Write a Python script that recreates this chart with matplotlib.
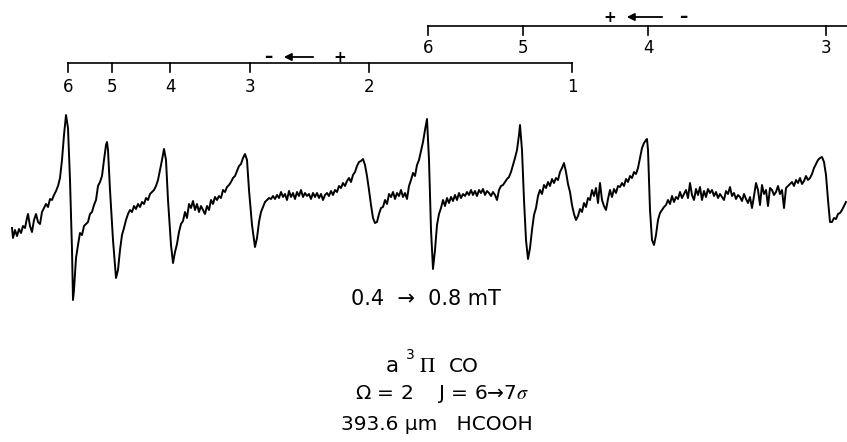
import matplotlib
matplotlib.use("Agg")
from matplotlib import pyplot as plt

# recorder trace (x = sweep position, y = pen height, 0 at top)
field = [12, 13, 15, 17, 19, 21, 23, 25, 27, 28, 30, 32, 34, 36, 38, 40, 42, 44, 46, 48,
         50, 52, 54, 56, 58, 60, 62, 64, 66,
         68, 70, 72, 73, 74, 76, 78, 80, 82, 84, 86, 88, 90, 92, 94, 96, 98, 100, 102, 104,
         106, 107, 108,
         110, 113, 116, 118, 120, 122, 124, 126, 128, 130, 132, 134, 136, 138, 140, 142, 144,
         146, 148, 150, 152, 154, 156, 158, 160, 162, 164, 166,
         168, 171, 173, 175, 177, 179, 181, 183, 185, 187, 189, 191, 193, 195, 197, 199, 201,
         203, 205, 207, 209, 211, 213, 215, 217, 219, 221, 223, 225, 227, 229, 231, 233, 235,
         237, 239, 241, 243, 245, 247,
         249, 252, 255, 257, 259, 261, 263, 265, 267, 269, 271, 273, 275, 277, 279, 281, 283,
         285, 287, 289, 291, 293, 295, 297, 299, 301, 303, 305, 307, 309, 311, 313, 315, 317,
         319, 321, 323, 325, 327, 329, 331, 333, 335, 337, 339, 341, 343, 345, 347, 349, 351,
         353, 355, 357, 359, 361, 363, 365, 367, 369, 371, 373, 375, 377, 379, 381, 383, 385,
         387, 389, 391, 393, 395, 397, 399, 401, 403, 405, 407, 409, 411, 413, 415, 417, 419,
         421, 423, 425, 427,
         429, 431, 433, 435, 437, 439, 441, 443, 445, 447, 449, 451, 453, 455, 457, 459, 461,
         463, 465, 467, 469, 471, 473, 475, 477, 479, 481, 483, 485, 487, 489, 491, 493, 495,
         497, 499, 501, 503, 505, 507, 509, 511, 513, 515, 517, 519, 520, 522,
         524, 526, 528, 530, 532, 534, 536, 538, 540, 542, 544, 546, 548, 550, 552, 554, 556,
         558, 560, 562, 564, 566, 568, 570, 572, 574, 576, 578, 580, 582, 584, 586, 588, 590,
         592, 594, 596, 598, 600, 602, 604, 606, 608, 610, 612, 614, 616, 618, 620, 622, 624,
         626, 628, 630, 632, 634, 636, 638, 640, 642, 644, 646, 647, 648,
         650, 652, 654, 656, 658, 660, 662, 664, 666, 668, 670, 672, 674, 676, 678, 680, 682,
         684, 686, 688, 690, 692, 694, 696, 698, 700, 702, 704, 706, 708, 710, 712, 714, 716,
         718, 720, 722, 724, 726, 728, 730, 732, 734, 736, 738, 740, 742, 744, 746, 748, 750,
         752, 754, 756, 758, 760, 762, 764, 766, 768, 770, 772, 774, 776, 778, 780, 782, 784,
         786, 788, 790, 792, 794, 796, 798, 800, 802, 804, 806, 808, 810, 812, 814, 816, 818,
         820, 822, 824, 826, 828, 830, 832, 834, 836, 838, 840, 842, 844, 846]
pen = [228, 238, 230, 236, 229, 233, 226, 228, 218, 214, 226, 232, 220, 214, 222, 224, 212,
       208, 204, 207, 199, 200, 195, 191, 186, 178, 160, 135, 115,
       128, 180, 250, 300, 290, 258, 245, 233, 235, 226, 224, 222, 214, 212, 205, 200, 186,
       182, 176, 160, 145, 142, 150,
       190, 240, 278, 270, 250, 235, 228, 220, 214, 210, 212, 206, 209, 204, 207, 202, 204,
       198, 200, 194, 192, 190, 186, 180, 170, 160, 149, 160,
       200, 245, 263, 252, 244, 232, 224, 221, 212, 218, 204, 208, 201, 210, 204, 212, 206,
       210, 214, 206, 210, 200, 204, 197, 200, 196, 198, 190, 192, 187, 185, 182, 178, 176,
       171, 166, 164, 158, 154, 160,
       190, 225, 247, 238, 222, 212, 207, 202, 200, 198, 199, 196, 199, 195, 198, 192, 197,
       194, 200, 191, 197, 193, 199, 192, 196, 190, 197, 193, 196, 194, 199, 193, 197, 193,
       198, 194, 200, 195, 193, 196, 191, 195, 190, 192, 186, 188, 183, 186, 181, 178, 182,
       175, 172, 166, 162, 161, 159, 165, 176, 190, 205, 218, 223, 222, 214, 208, 207, 200,
       204, 194, 197, 192, 199, 193, 196, 190, 197, 193, 199, 186, 180, 173, 176, 165, 160,
       151, 142, 130, 119,
       160, 230, 269, 250, 225, 214, 208, 200, 206, 198, 203, 197, 201, 195, 200, 193, 198,
       194, 196, 192, 195, 190, 195, 191, 196, 190, 193, 189, 195, 191, 193, 196, 192, 195,
       200, 190, 186, 185, 182, 179, 177, 172, 165, 158, 150, 135, 125, 150,
       200, 240, 259, 248, 230, 215, 208, 196, 190, 194, 185, 188, 182, 186, 179, 183, 178,
       180, 172, 168, 163, 172, 184, 192, 205, 214, 220, 216, 209, 212, 203, 207, 198, 200,
       190, 196, 188, 203, 183, 200, 206, 210, 199, 190, 197, 189, 193, 186, 187, 183, 186,
       179, 182, 176, 178, 172, 174, 168, 158, 148, 143, 140, 139, 150,
       210, 240, 245, 235, 220, 213, 210, 207, 205, 200, 204, 196, 202, 197, 199, 192, 198,
       194, 190, 198, 183, 195, 200, 189, 195, 187, 200, 191, 197, 189, 193, 190, 196, 192,
       198, 194, 197, 200, 191, 194, 187, 196, 193, 199, 195, 197, 201, 194, 199, 203, 197,
       208, 196, 183, 190, 205, 185, 194, 190, 206, 188, 190, 195, 192, 186, 194, 190, 208,
       188, 186, 184, 182, 186, 180, 183, 178, 184, 181, 176, 180, 178, 174, 168, 164, 160,
       158, 157, 162, 175, 200, 222, 222, 218, 219, 214, 213, 210, 206, 202]

# line-number scales above the trace
lower_labels = ["6", "5", "4", "3", "2", "1"]
lower_pos = [68, 112, 170, 250, 369, 572]
upper_labels = ["6", "5", "4", "3"]
upper_pos = [428, 523, 648, 826]

fam = "DejaVu Sans"

fig = plt.figure(figsize=(8.47, 4.42), dpi=100)
ax = fig.add_axes([0, 0, 1, 1])
ax.set_xlim(0, 847)
ax.set_ylim(442, 0)
ax.axis("off")

ax.plot(field, pen, color="black", linewidth=1.4, solid_joinstyle="round")

# lower scale
ax.plot([lower_pos[0], lower_pos[-1]], [63, 63], color="black", linewidth=1.2)
for p, lab in zip(lower_pos, lower_labels):
    ax.plot([p, p], [63, 72], color="black", linewidth=1.2)
    ax.text(p, 87, lab, ha="center", va="center", fontsize=12, family=fam)
ax.text(268, 57, "\u2013", ha="center", va="center", fontsize=12, family=fam, fontweight="bold")
ax.annotate("", xy=(281, 57), xytext=(316, 57),
            arrowprops=dict(arrowstyle="-|>", color="black", lw=1.3, mutation_scale=11))
ax.text(340, 57, "+", ha="center", va="center", fontsize=11, family=fam, fontweight="bold")

# upper scale
ax.plot([upper_pos[0], 847], [26, 26], color="black", linewidth=1.2)
for p, lab in zip(upper_pos, upper_labels):
    ax.plot([p, p], [26, 35], color="black", linewidth=1.2)
    ax.text(p, 48, lab, ha="center", va="center", fontsize=12, family=fam)
ax.text(610, 17, "+", ha="center", va="center", fontsize=11, family=fam, fontweight="bold")
ax.annotate("", xy=(624, 17), xytext=(665, 17),
            arrowprops=dict(arrowstyle="-|>", color="black", lw=1.3, mutation_scale=11))
ax.text(683, 17, "\u2013", ha="center", va="center", fontsize=12, family=fam, fontweight="bold")

# captions
ax.text(426, 299, "0.4  \u2192  0.8 mT", ha="center", va="center", fontsize=15, family=fam)
ax.text(392, 372, "a", ha="center", va="baseline", fontsize=15.5, family=fam)
ax.text(410, 359, "3", ha="center", va="baseline", fontsize=10, family=fam)
ax.text(427, 372, "$\\Pi$", ha="center", va="baseline", fontsize=15, family=fam,
        math_fontfamily="stix")
ax.text(464, 372, "CO", ha="center", va="baseline", fontsize=14.5, family=fam)
ax.text(442, 394, "\u03a9 = 2    J = 6\u21927$\\sigma$", ha="center", va="center",
        fontsize=14.5, family=fam, math_fontfamily="stix")
ax.text(437, 424, "393.6 \u03bcm   HCOOH", ha="center", va="center", fontsize=14.5, family=fam)

fig.savefig("out.png", dpi=100)
